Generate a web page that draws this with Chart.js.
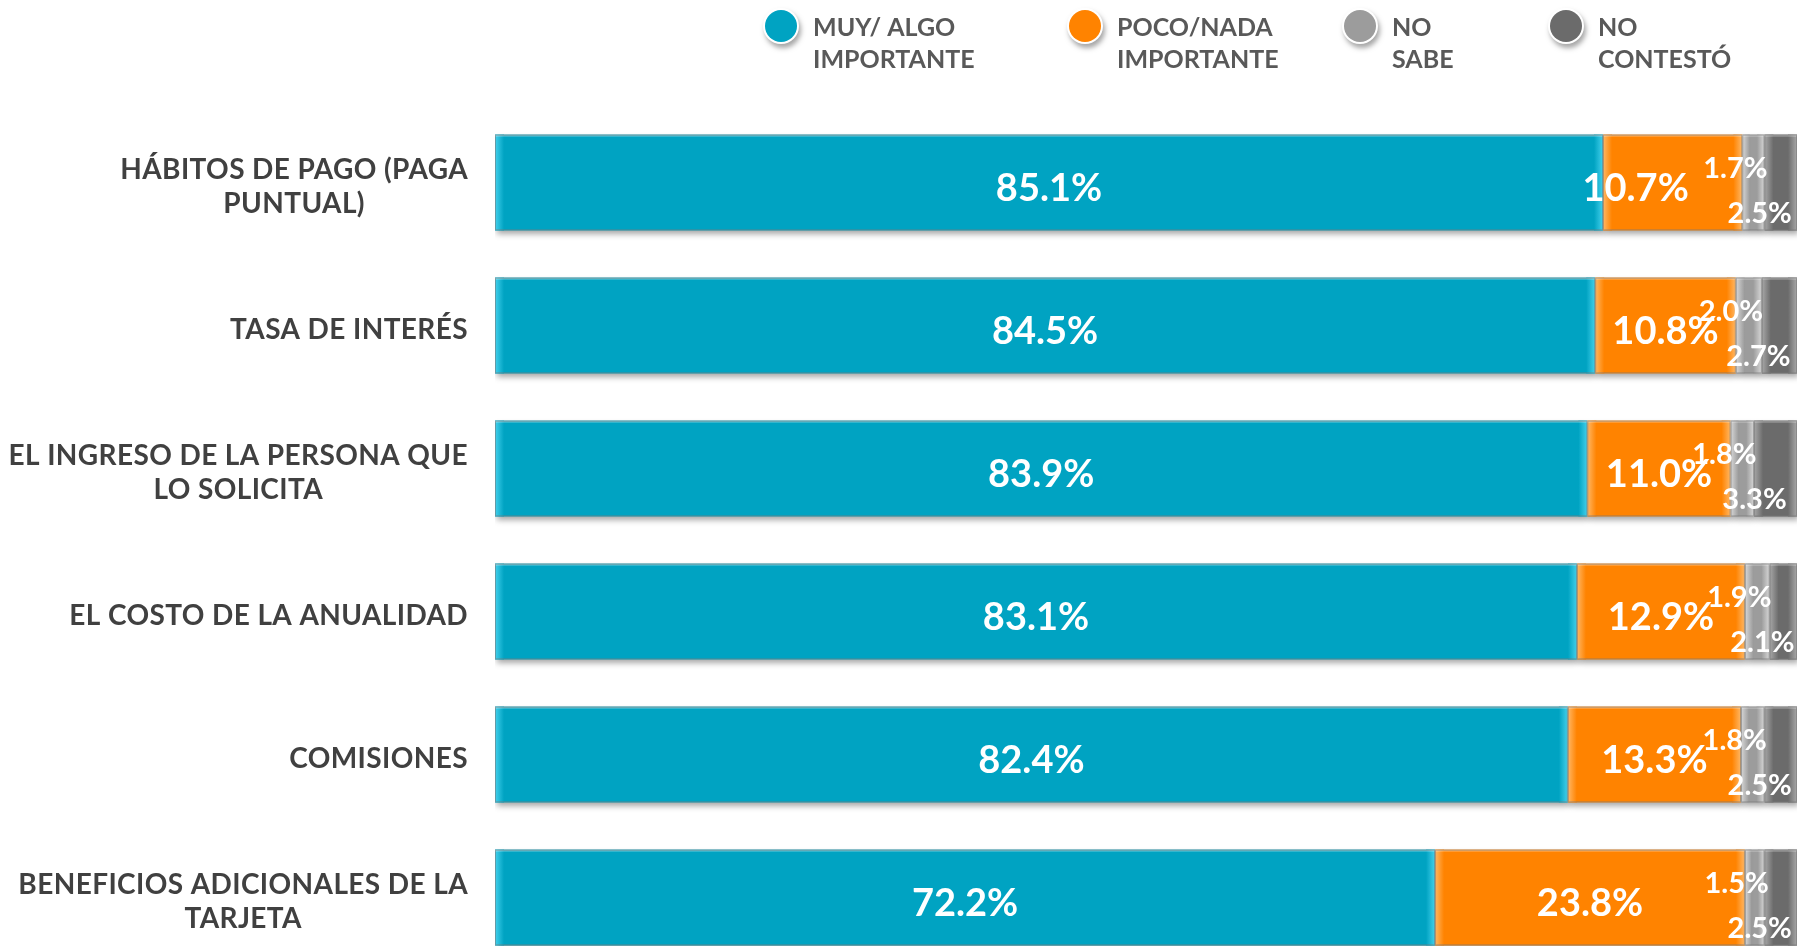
<!DOCTYPE html>
<html>
<head>
<meta charset="utf-8">
<script src="https://cdn.jsdelivr.net/npm/chart.js@4/dist/chart.umd.min.js"></script>
<style>
html,body{margin:0;padding:0;background:#fff;overflow:hidden;}
#wrap{position:relative;width:1798px;height:969px;}
</style>
</head>
<body>
<div id="wrap"><canvas id="grafica"></canvas></div>
<script>
// datos
var categorias = [
  ["HÁBITOS DE PAGO (PAGA", "PUNTUAL)"],
  ["TASA DE INTERÉS"],
  ["EL INGRESO DE LA PERSONA QUE", "LO SOLICITA"],
  ["EL COSTO DE LA ANUALIDAD"],
  ["COMISIONES"],
  ["BENEFICIOS ADICIONALES DE LA", "TARJETA"]
];
var muyAlgo    = [85.1, 84.5, 83.9, 83.1, 82.4, 72.2];
var pocoNada   = [10.7, 10.8, 11.0, 12.9, 13.3, 23.8];
var noSabe     = [1.7, 2.0, 1.8, 1.9, 1.8, 1.5];
var noContesto = [2.5, 2.7, 3.3, 2.1, 2.5, 2.5];

var etiquetas = ["MUY/ ALGO\nIMPORTANTE", "POCO/NADA\nIMPORTANTE", "NO\nSABE", "NO\nCONTESTÓ"];
var colores   = ["#00A3C2", "#FF8300", "#9C9C9C", "#6B6B6B"];
var claros    = ["#44D0EC", "#FFB866", "#D8D8D8", "#A8A8A8"];

var FUENTE = "Lato, 'Noto Sans', sans-serif";

function dataset(i, valores){
  return {
    label: etiquetas[i],
    data: valores,
    backgroundColor: colores[i],
    borderWidth: 0,
    barPercentage: 0.67,
    categoryPercentage: 1
  };
}

// sombra bajo las barras
var sombra = {
  id: 'sombra',
  beforeDatasetDraw: function(chart){
    var ctx = chart.ctx;
    ctx.save();
    ctx.shadowColor = 'rgba(0,0,0,0.35)';
    ctx.shadowBlur = 6;
    ctx.shadowOffsetX = 2;
    ctx.shadowOffsetY = 4;
  },
  afterDatasetDraw: function(chart){
    chart.ctx.restore();
  }
};

// biseles y textos
var decorado = {
  id: 'decorado',
  afterDatasetsDraw: function(chart){
    var ctx = chart.ctx;
    chart.data.datasets.forEach(function(ds, di){
      var meta = chart.getDatasetMeta(di);
      meta.data.forEach(function(bar){
        var left = Math.min(bar.x, bar.base), right = Math.max(bar.x, bar.base);
        var top = bar.y - bar.height/2, h = bar.height;
        var w = Math.min(9, (right-left)/3);
        var g = ctx.createLinearGradient(left, 0, left+w, 0);
        g.addColorStop(0, claros[di]); g.addColorStop(1, colores[di]);
        ctx.fillStyle = g;
        ctx.fillRect(left, top, w, h);
        g = ctx.createLinearGradient(right-w, 0, right, 0);
        g.addColorStop(0, colores[di]); g.addColorStop(1, claros[di]);
        ctx.fillStyle = g;
        ctx.fillRect(right-w, top, w, h);
        ctx.fillStyle = 'rgba(255,255,255,0.35)';
        ctx.fillRect(left, top, right-left, 2);
        ctx.strokeStyle = 'rgba(120,120,120,0.6)';
        ctx.lineWidth = 1;
        ctx.strokeRect(left+0.5, top+0.5, right-left-1, h-1);
      });
    });

    // valores
    ctx.save();
    ctx.fillStyle = '#fff';
    ctx.textBaseline = 'middle';
    ctx.textAlign = 'center';
    chart.data.datasets.forEach(function(ds, di){
      var meta = chart.getDatasetMeta(di);
      meta.data.forEach(function(bar, i){
        var cx = (bar.x + bar.base)/2, cy = bar.y;
        var txt = ds.data[i].toFixed(1) + '%';
        if(di < 2){
          ctx.font = 'bold 38px ' + FUENTE;
          if(di == 1 && i == 0) cx -= 37;
          ctx.fillText(txt, cx, cy + 6);
        }else{
          ctx.font = 'bold 29px ' + FUENTE;
          if(di == 2) ctx.fillText(txt, cx - 18, cy - 14);
          else ctx.fillText(txt, cx - 21, cy + 31);
        }
      });
    });
    ctx.restore();
  },
  afterDraw: function(chart){
    var ctx = chart.ctx;
    var y = chart.scales.y;
    ctx.save();
    // categorias
    ctx.fillStyle = '#404040';
    ctx.font = 'bold 28px ' + FUENTE;
    ctx.letterSpacing = '0.4px';
    ctx.textBaseline = 'middle';
    ctx.textAlign = 'center';
    var derecha = chart.chartArea.left - 27;
    categorias.forEach(function(lineas, i){
      var cy = y.getPixelForValue(i) + 4;
      var ancho = 0;
      lineas.forEach(function(l){ ancho = Math.max(ancho, ctx.measureText(l).width); });
      var cx = derecha - ancho/2;
      var y0 = cy - (lineas.length-1)*34/2;
      lineas.forEach(function(l, k){ ctx.fillText(l, cx, y0 + k*34); });
    });
    ctx.letterSpacing = '0px';

    // leyenda
    var posX = [781, 1085, 1360, 1566];
    ctx.font = 'bold 25px ' + FUENTE;
    ctx.textAlign = 'left';
    chart.data.datasets.forEach(function(ds, di){
      var x = posX[di];
      ctx.save();
      ctx.shadowColor = 'rgba(0,0,0,0.35)';
      ctx.shadowBlur = 5;
      ctx.shadowOffsetX = 2;
      ctx.shadowOffsetY = 4;
      ctx.beginPath();
      ctx.arc(x, 26, 18, 0, Math.PI*2);
      ctx.fillStyle = '#fff';
      ctx.fill();
      ctx.restore();
      ctx.beginPath();
      ctx.arc(x, 26, 16, 0, Math.PI*2);
      ctx.fillStyle = colores[di];
      ctx.fill();
      ctx.fillStyle = '#595959';
      ds.label.split('\n').forEach(function(l, k){
        ctx.fillText(l, x + 32, 28 + k*32);
      });
    });
    ctx.restore();
  }
};

new Chart(document.getElementById('grafica'), {
  type: 'bar',
  data: {
    labels: categorias,
    datasets: [
      dataset(0, muyAlgo),
      dataset(1, pocoNada),
      dataset(2, noSabe),
      dataset(3, noContesto)
    ]
  },
  options: {
    indexAxis: 'y',
    responsive: true,
    maintainAspectRatio: false,
    animation: false,
    layout: { padding: { left: 495, right: 1, top: 111, bottom: 0 } },
    plugins: {
      legend: { display: false },
      tooltip: { enabled: false }
    },
    scales: {
      x: { stacked: true, min: 0, max: 100, display: false },
      y: { stacked: true, display: false, offset: true }
    }
  },
  plugins: [sombra, decorado]
});
</script>
</body>
</html>
